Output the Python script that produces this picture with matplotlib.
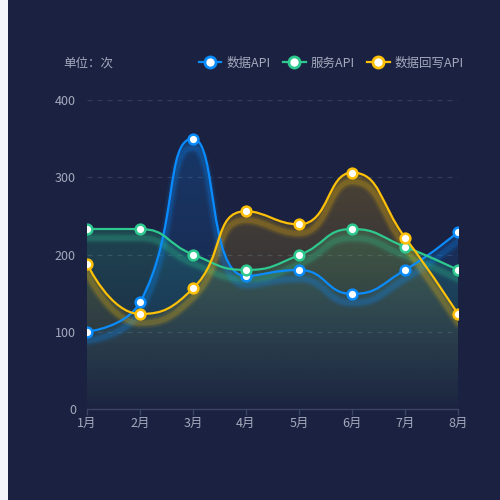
import numpy as np
import matplotlib
matplotlib.use("Agg")
import matplotlib.pyplot as plt
from matplotlib.path import Path
from matplotlib.patches import PathPatch, Rectangle
from matplotlib.lines import Line2D
import matplotlib.transforms as mtransforms

plt.rcParams['font.family'] = ['Noto Sans CJK SC', 'DejaVu Sans']

categories = ['1月', '2月', '3月', '4月', '5月', '6月', '7月', '8月']
data_api = [100, 138, 350, 172, 180, 149, 180, 229]
service_api = [233, 233, 200, 180, 199, 233, 210, 180]
writeback_api = [188, 123, 156, 256, 239, 306, 222, 123]
series_names = ['数据API', '服务API', '数据回写API']
series_values = [data_api, service_api, writeback_api]
series_colors = ['#0a8cff', '#2ec98f', '#ffc107']
y_ticks = [0, 100, 200, 300, 400]

BG = '#1b2140'
TXT = '#a3aabd'

fig = plt.figure(figsize=(5, 5), dpi=100)
fig.patch.set_facecolor(BG)
fig.add_artist(Rectangle((0, 0), 8 / 500, 1, transform=fig.transFigure,
                         facecolor='#f3f5fa', edgecolor='none', zorder=0))

ax = fig.add_axes([87 / 500, 91 / 500, 371 / 500, 309 / 500])
ax.set_facecolor(BG)
ax.set_xlim(0, len(categories) - 1)
ax.set_ylim(0, 400)

# pixel scale for echarts-like smoothing
SX = 371 / (len(categories) - 1)
SY = 309 / 400.0


def smooth_path(xs, ys, smooth=0.5):
    pts = [(x * SX, y * SY) for x, y in zip(xs, ys)]
    n = len(pts)
    verts = [pts[0]]
    codes = [Path.MOVETO]
    cpx0, cpy0 = pts[0]
    prevX, prevY = pts[0]
    for k in range(1, n):
        x, y = pts[k]
        if k == n - 1:
            cpx1, cpy1 = x, y
            nx0, ny0 = x, y
        else:
            nextX, nextY = pts[k + 1]
            vx = nextX - prevX
            vy = nextY - prevY
            dx0, dy0 = x - prevX, y - prevY
            dx1, dy1 = nextX - x, nextY - y
            lp = np.hypot(dx0, dy0)
            ln = np.hypot(dx1, dy1)
            r = ln / (ln + lp)
            nx0 = x + vx * smooth * r
            ny0 = y + vy * smooth * r
            nx0 = min(nx0, max(nextX, x)); ny0 = min(ny0, max(nextY, y))
            nx0 = max(nx0, min(nextX, x)); ny0 = max(ny0, min(nextY, y))
            vx = nx0 - x; vy = ny0 - y
            cpx1 = x - vx * lp / ln
            cpy1 = y - vy * lp / ln
            cpx1 = min(cpx1, max(prevX, x)); cpy1 = min(cpy1, max(prevY, y))
            cpx1 = max(cpx1, min(prevX, x)); cpy1 = max(cpy1, min(prevY, y))
            vx = x - cpx1; vy = y - cpy1
            nx0 = x + vx * ln / lp
            ny0 = y + vy * ln / lp
        verts += [(cpx0, cpy0), (cpx1, cpy1), (x, y)]
        codes += [Path.CURVE4] * 3
        cpx0, cpy0 = nx0, ny0
        prevX, prevY = x, y
    verts = [(vx_ / SX, vy_ / SY) for vx_, vy_ in verts]
    return verts, codes


def hex2rgb(h):
    h = h.lstrip('#')
    return tuple(int(h[i:i + 2], 16) / 255 for i in (0, 2, 4))


# grid
for t in y_ticks[1:]:
    ax.axhline(t, color='#323d5c', lw=0.9, ls=(0, (4, 4)), zorder=1)

xs = np.arange(len(categories))
shadow = mtransforms.ScaledTranslation(0, -9 / 100, fig.dpi_scale_trans)

for name, vals, col in zip(series_names, series_values, series_colors):
    verts, codes = smooth_path(xs, vals)
    # area fill with vertical gradient
    av = verts + [(xs[-1], 0), (xs[0], 0), verts[0]]
    ac = codes + [Path.LINETO, Path.LINETO, Path.CLOSEPOLY]
    patch = PathPatch(Path(av, ac), facecolor='none', edgecolor='none')
    ax.add_patch(patch)
    rgb = hex2rgb(col)
    top = max(vals)
    grad = np.zeros((256, 2, 4))
    yy = np.linspace(0, 1, 256)[:, None]
    grad[..., 0] = rgb[0]; grad[..., 1] = rgb[1]; grad[..., 2] = rgb[2]
    grad[..., 3] = (0.01 + 0.2 * yy)
    im = ax.imshow(grad, extent=[xs[0], xs[-1], 0, top], origin='lower',
                   aspect='auto', zorder=2, interpolation='bilinear')
    im.set_clip_path(patch)

for name, vals, col in zip(series_names, series_values, series_colors):
    verts, codes = smooth_path(xs, vals)
    for lw, a in [(8, 0.07), (5.5, 0.1), (3.5, 0.15)]:
        ax.add_patch(PathPatch(Path(verts, codes), facecolor='none', edgecolor=col,
                               lw=lw, alpha=a, transform=ax.transData + shadow,
                               zorder=3, capstyle='round'))

for i, (name, vals, col) in enumerate(zip(series_names, series_values, series_colors)):
    verts, codes = smooth_path(xs, vals)
    ax.add_patch(PathPatch(Path(verts, codes), facecolor='none', edgecolor=col,
                           lw=1.6, zorder=4 + i))
    ax.plot(xs, vals, ls='none', marker='o', ms=7, mfc='white', mec=col, mew=1.8,
            zorder=4.5 + i)

for s in ['top', 'right', 'left']:
    ax.spines[s].set_visible(False)
ax.spines['bottom'].set_color('#3a4566')
ax.spines['bottom'].set_linewidth(1)
ax.set_xticks(xs)
ax.set_xticklabels(categories)
ax.set_yticks(y_ticks)
ax.set_yticklabels([str(t) for t in y_ticks])
ax.tick_params(axis='x', colors='#3a4566', length=4, width=1, labelcolor=TXT,
               labelsize=9, pad=2)
ax.tick_params(axis='y', length=0, labelcolor=TXT, labelsize=9, pad=8)

fig.text(63 / 500, 1 - 63 / 500, '单位：次', color=TXT, fontsize=9, va='center', ha='left')

handles = [Line2D([0], [0], color=c, lw=1.6, marker='o', ms=8, mfc='white', mec=c, mew=2)
           for c in series_colors]
leg = fig.legend(handles, series_names, loc='center right',
                 bbox_to_anchor=(475 / 500, 1 - 63 / 500), ncol=3, frameon=False,
                 handlelength=1.8, handletextpad=0.4, columnspacing=1.0,
                 fontsize=9, labelcolor=TXT)

fig.savefig('out.png', dpi=100, facecolor=BG)
